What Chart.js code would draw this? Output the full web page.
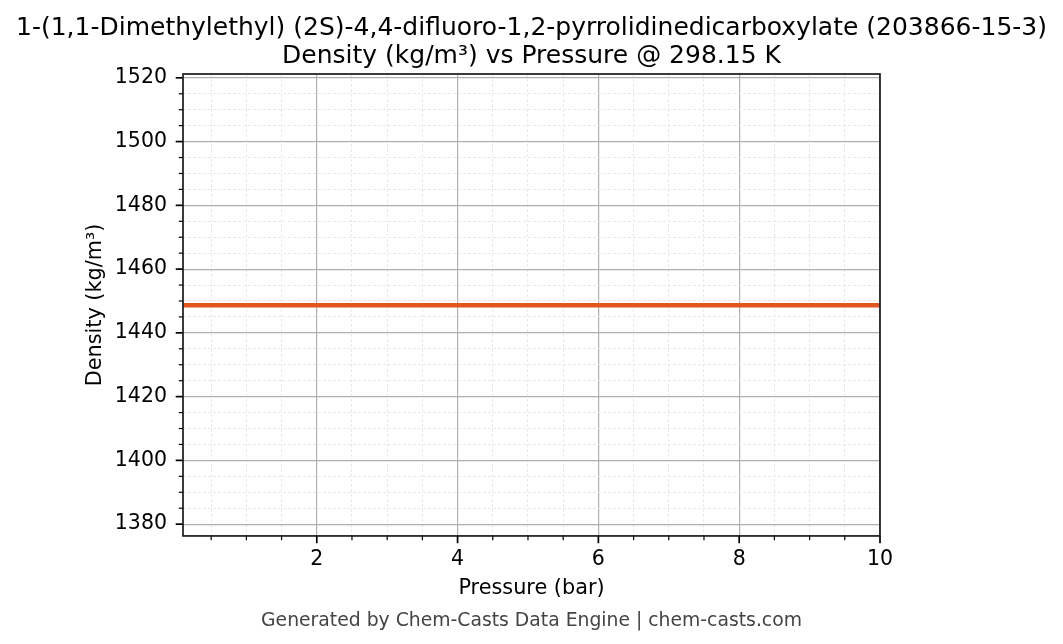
<!DOCTYPE html>
<html lang="en">
<head>
    <meta charset="UTF-8">
    <title>Density vs Pressure</title>
    <script src="https://cdn.jsdelivr.net/npm/chart.js"></script>
    <style>
        html, body { margin: 0; padding: 0; background: #fff; }
        #wrap { width: 1063px; height: 644px; }
    </style>
</head>
<body>
    <div id="wrap"><canvas id="densityChart" width="1063" height="644"></canvas></div>

    <script>
        // data
        const pressures = [0.1, 1, 2, 3, 4, 5, 6, 7, 8, 9, 10];
        const densities = [1448.7, 1448.7, 1448.7, 1448.7, 1448.7, 1448.7, 1448.7, 1448.7, 1448.7, 1448.7, 1448.7];
        const xTicks = [0.5, 1, 1.5, 2, 2.5, 3, 3.5, 4, 4.5, 5, 5.5, 6, 6.5, 7, 7.5, 8, 8.5, 9, 9.5, 10];
        const xLabels = [2, 4, 6, 8, 10];
        const yTicks = [1380, 1385, 1390, 1395, 1400, 1405, 1410, 1415, 1420, 1425, 1430, 1435, 1440, 1445, 1450,
                        1455, 1460, 1465, 1470, 1475, 1480, 1485, 1490, 1495, 1500, 1505, 1510, 1515, 1520];
        const yLabels = [1380, 1400, 1420, 1440, 1460, 1480, 1500, 1520];
        const xRange = [0.1, 10];
        const yRange = [1376.3, 1521.2];

        const FONT = "'DejaVu Sans', sans-serif";

        function isMajor(list, v) {
            return list.some(m => Math.abs(m - v) < 1e-6);
        }

        // spines and outward tick marks, like matplotlib
        const frame = {
            id: "frame",
            afterDraw(chart) {
                const ctx = chart.ctx;
                const a = chart.chartArea;
                const xs = chart.scales.x, ys = chart.scales.y;
                ctx.save();
                ctx.strokeStyle = "#000";
                xs.ticks.forEach(t => {
                    const major = isMajor(xLabels, t.value);
                    const px = xs.getPixelForValue(t.value);
                    ctx.lineWidth = major ? 1.7 : 1.2;
                    ctx.beginPath();
                    ctx.moveTo(px, a.bottom);
                    ctx.lineTo(px, a.bottom + (major ? 7.3 : 4.2));
                    ctx.stroke();
                });
                ys.ticks.forEach(t => {
                    const major = isMajor(yLabels, t.value);
                    const py = ys.getPixelForValue(t.value);
                    ctx.lineWidth = major ? 1.7 : 1.2;
                    ctx.beginPath();
                    ctx.moveTo(a.left, py);
                    ctx.lineTo(a.left - (major ? 7.3 : 4.2), py);
                    ctx.stroke();
                });
                ctx.lineWidth = 1.7;
                ctx.strokeStyle = "#1a1a1a";
                ctx.strokeRect(a.left, a.top, a.right - a.left, a.bottom - a.top);
                ctx.restore();
            }
        };

        new Chart(document.getElementById("densityChart"), {
            type: "line",
            data: {
                datasets: [{
                    data: pressures.map((p, i) => ({ x: p, y: densities[i] })),
                    borderColor: "#e0581f",
                    borderWidth: 4.5,
                    pointRadius: 0,
                    tension: 0
                }]
            },
            options: {
                responsive: false,
                animation: false,
                devicePixelRatio: 1,
                layout: { padding: 0 },
                plugins: {
                    legend: { display: false },
                    tooltip: { enabled: false },
                    title: {
                        display: true,
                        text: ["1-(1,1-Dimethylethyl) (2S)-4,4-difluoro-1,2-pyrrolidinedicarboxylate (203866-15-3)",
                               "Density (kg/m³) vs Pressure @ 298.15 K"],
                        color: "#000",
                        font: { family: FONT, size: 25, weight: "normal", lineHeight: 1.12 },
                        padding: { top: 14, bottom: 4 }
                    },
                    subtitle: {
                        display: true,
                        position: "bottom",
                        text: "Generated by Chem-Casts Data Engine | chem-casts.com",
                        color: "#444",
                        font: { family: FONT, size: 18.8, weight: "normal", lineHeight: 1.2 },
                        padding: { top: 0, bottom: 12 }
                    }
                },
                scales: {
                    x: {
                        type: "linear",
                        min: xRange[0],
                        max: xRange[1],
                        afterBuildTicks: s => { s.ticks = xTicks.map(v => ({ value: v })); },
                        afterFit: s => { s.height = 73.5; },
                        ticks: {
                            autoSkip: false,
                            maxRotation: 0,
                            padding: 11,
                            color: "#000",
                            font: { family: FONT, size: 20.5 },
                            callback: v => isMajor(xLabels, v) ? String(v) : ""
                        },
                        grid: {
                            drawTicks: false,
                            color: c => isMajor(xLabels, c.tick.value) ? "#b0b0b0" : "#e6e6e6",
                            lineWidth: c => isMajor(xLabels, c.tick.value) ? 1.2 : 0.9
                        },
                        border: {
                            display: false,
                            dash: c => isMajor(xLabels, c.tick.value) ? [] : [3, 2]
                        },
                        title: {
                            display: true,
                            text: "Pressure (bar)",
                            color: "#000",
                            font: { family: FONT, size: 20.8, lineHeight: 1.2 },
                            padding: { top: 0, bottom: 8 }
                        }
                    },
                    y: {
                        type: "linear",
                        min: yRange[0],
                        max: yRange[1],
                        afterBuildTicks: s => { s.ticks = yTicks.map(v => ({ value: v })); },
                        afterFit: s => { s.width = 183; },
                        ticks: {
                            autoSkip: false,
                            padding: 16,
                            color: "#000",
                            font: { family: FONT, size: 20.5 },
                            callback: v => isMajor(yLabels, v) ? String(v) : ""
                        },
                        grid: {
                            drawTicks: false,
                            color: c => isMajor(yLabels, c.tick.value) ? "#b0b0b0" : "#e6e6e6",
                            lineWidth: c => isMajor(yLabels, c.tick.value) ? 1.2 : 0.9
                        },
                        border: {
                            display: false,
                            dash: c => isMajor(yLabels, c.tick.value) ? [] : [3, 2]
                        },
                        title: {
                            display: true,
                            text: "Density (kg/m³)",
                            color: "#000",
                            font: { family: FONT, size: 20.8, lineHeight: 1.2 },
                            padding: { top: 83.5, bottom: 0 }
                        }
                    },
                    // empty right-hand box that reserves the figure margin
                    spacer: {
                        type: "linear",
                        position: "right",
                        display: true,
                        afterFit: s => { s.width = 183; },
                        ticks: { display: false },
                        grid: { display: false, drawOnChartArea: false },
                        border: { display: false }
                    }
                }
            },
            plugins: [frame]
        });
    </script>
</body>
</html>
